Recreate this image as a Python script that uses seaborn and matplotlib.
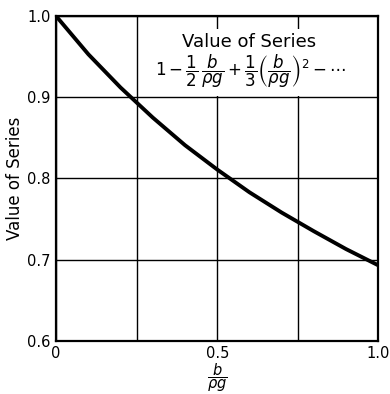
import matplotlib
matplotlib.use("Agg")
import matplotlib.pyplot as plt
from matplotlib.patches import Rectangle
import seaborn as sns
import pandas as pd

# values
ratio = [0.0, 0.1, 0.2, 0.3, 0.4, 0.5, 0.6, 0.7, 0.8, 0.9, 1.0]
series_value = [1.0, 0.953, 0.912, 0.875, 0.841, 0.811, 0.783, 0.758, 0.735, 0.713, 0.693]
x_ticks = [0, 0.5, 1.0]
x_tick_labels = ["0", "0.5", "1.0"]
x_minor = [0.25, 0.75]
y_ticks = [0.6, 0.7, 0.8, 0.9, 1.0]
y_tick_labels = ["0.6", "0.7", "0.8", "0.9", "1.0"]

df = pd.DataFrame({"ratio": ratio, "value": series_value})

sns.set_style("white")
plt.rcParams["font.family"] = ["DejaVu Sans"]
plt.rcParams["text.color"] = "black"
plt.rcParams["axes.labelcolor"] = "black"
plt.rcParams["xtick.color"] = "black"
plt.rcParams["ytick.color"] = "black"

fig = plt.figure(figsize=(3.9, 3.94), dpi=100)
ax = fig.add_axes([0.144, 0.135, 0.826, 0.824])

sns.lineplot(data=df, x="ratio", y="value", color="black", linewidth=2.8, ax=ax)

ax.set_xlim(0, 1.0)
ax.set_ylim(0.6, 1.0)
ax.set_xticks(x_ticks)
ax.set_xticklabels(x_tick_labels, fontsize=10.5)
ax.set_xticks(x_minor, minor=True)
ax.set_yticks(y_ticks)
ax.set_yticklabels(y_tick_labels, fontsize=10.5)
ax.tick_params(which="both", length=0, pad=4)
ax.grid(True, which="both", color="black", linewidth=1.0)
ax.set_axisbelow(True)
for s in ax.spines.values():
    s.set_color("black")
    s.set_linewidth(1.6)

ax.set_xlabel(r"$\dfrac{b}{\rho g}$", fontsize=10.5, labelpad=0)
ax.set_ylabel("Value of Series", fontsize=12, labelpad=2)

# white patch behind the formula
ax.add_patch(Rectangle((0.31, 0.755), 0.68, 0.205, transform=ax.transAxes,
                       facecolor="white", edgecolor="none", zorder=1))
ax.text(0.60, 0.92, "Value of Series", fontsize=13, ha="center", va="center",
        transform=ax.transAxes, zorder=3)
ax.text(0.605, 0.83,
        r"$1-\dfrac{1}{2}\,\dfrac{b}{\rho g}+\dfrac{1}{3}\left(\dfrac{b}{\rho g}\right)^{2}-\cdots$",
        fontsize=12, ha="center", va="center", transform=ax.transAxes, zorder=3)

fig.savefig("out.png", dpi=100)
